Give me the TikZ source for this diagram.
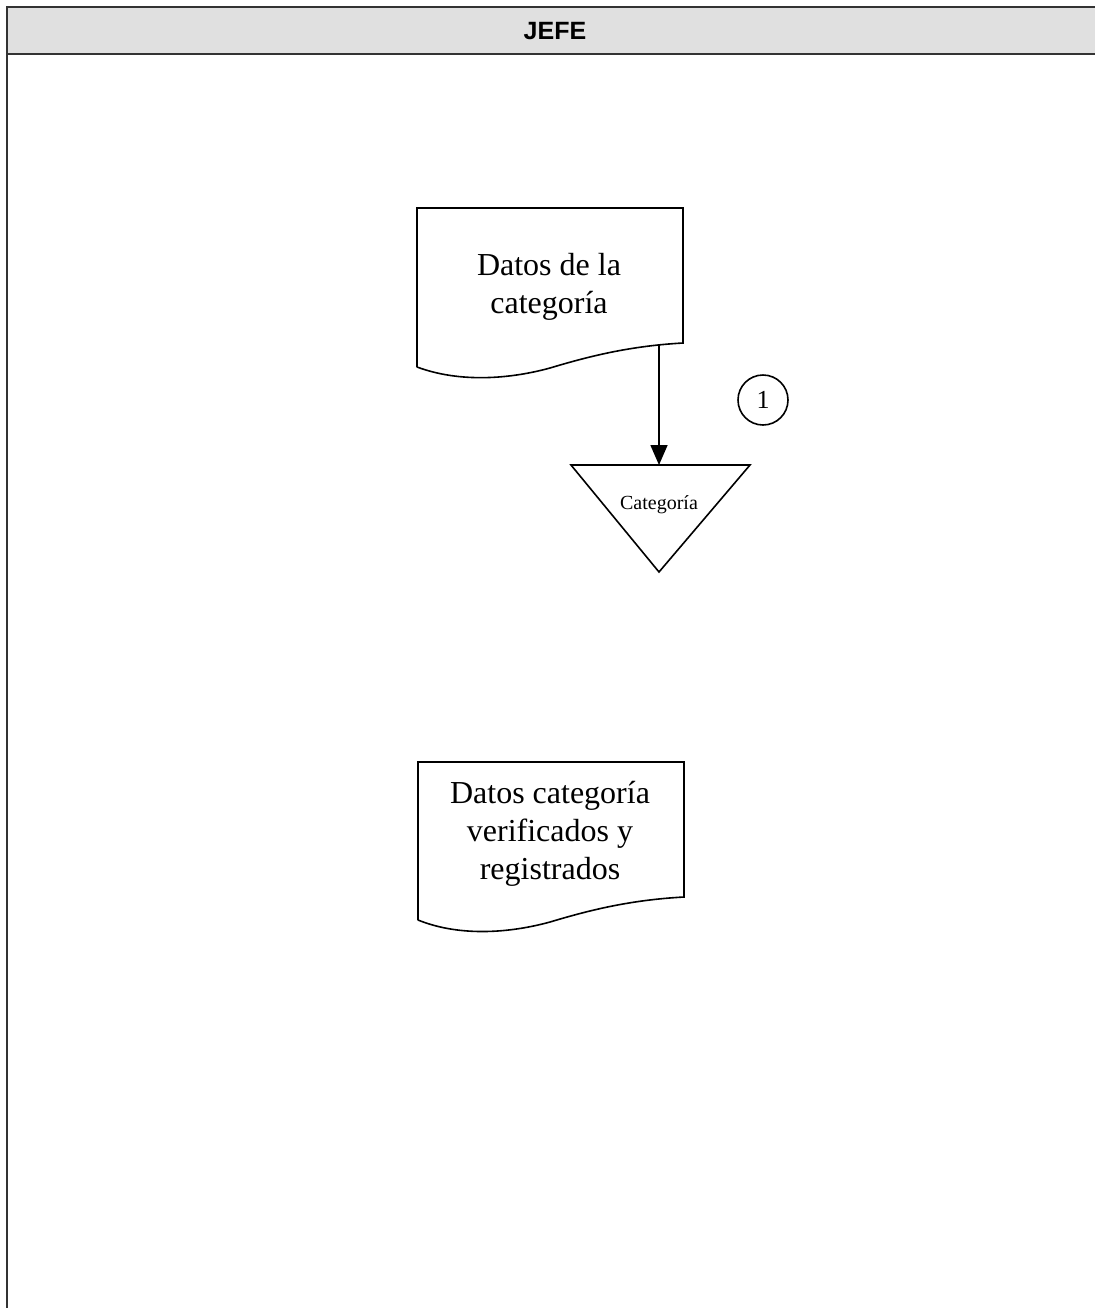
\documentclass[tikz,border=0pt]{standalone}
\usepackage{fontspec}
\setmainfont{Liberation Serif}
\newfontfamily\hdrfont{Liberation Sans}
\usetikzlibrary{arrows.meta}
\begin{document}
\begin{tikzpicture}[x=0.5pt,y=-0.5pt,
  docline/.style={line width=0.8pt},
  framel/.style={line width=1pt, draw=black!80},
  doctext/.style={align=center, font=\fontsize{16}{19}\selectfont, inner sep=0pt},
  arr/.style={line width=0.8pt, -{Triangle[length=10pt,width=8.5pt]}}]
\useasboundingbox (0,0) rectangle (1095,1308);
% lane frame
\fill[black!12] (7,7) rectangle (1095,54);
\draw[framel] (1095,7) -- (7,7) -- (7,1308);
\draw[line width=1.4pt, draw=black!80] (7,54) -- (1095,54);
\node[font=\hdrfont\bfseries\fontsize{12.5}{15}\selectfont] (hdr) at (555,31) {JEFE};
% document 1
\draw[docline] (417,367) -- (417,208) -- (683,208) -- (683,343)
  .. controls (630,346) and (590,356) .. (550,368)
  .. controls (510,379) and (460,383) .. (417,367);
\node[doctext] (d1) at (549,287) {Datos de la\\categoría};
\coordinate (d1b) at (659,344);
% storage triangle
\draw[docline] (571,465) -- (750,465) -- (659,572) -- cycle;
\coordinate (tritop) at (659,465);
\node[font=\fontsize{10}{12}\selectfont, inner sep=0pt] (tri) at (659,505) {Categoría};
\draw[arr] (d1b) -- (tritop);
% connector circle
\node[draw, circle, line width=0.8pt, minimum size=25pt, inner sep=0pt,
  font=\fontsize{13}{15}\selectfont] (c1) at (763,400) {1};
% document 2
\draw[docline] (418,920) -- (418,762) -- (684,762) -- (684,897)
  .. controls (630,900) and (590,910) .. (550,922)
  .. controls (510,933) and (460,937) .. (418,920);
\node[doctext] (d2) at (550,834) {Datos categoría\\verificados y\\registrados};
\end{tikzpicture}
\end{document}
